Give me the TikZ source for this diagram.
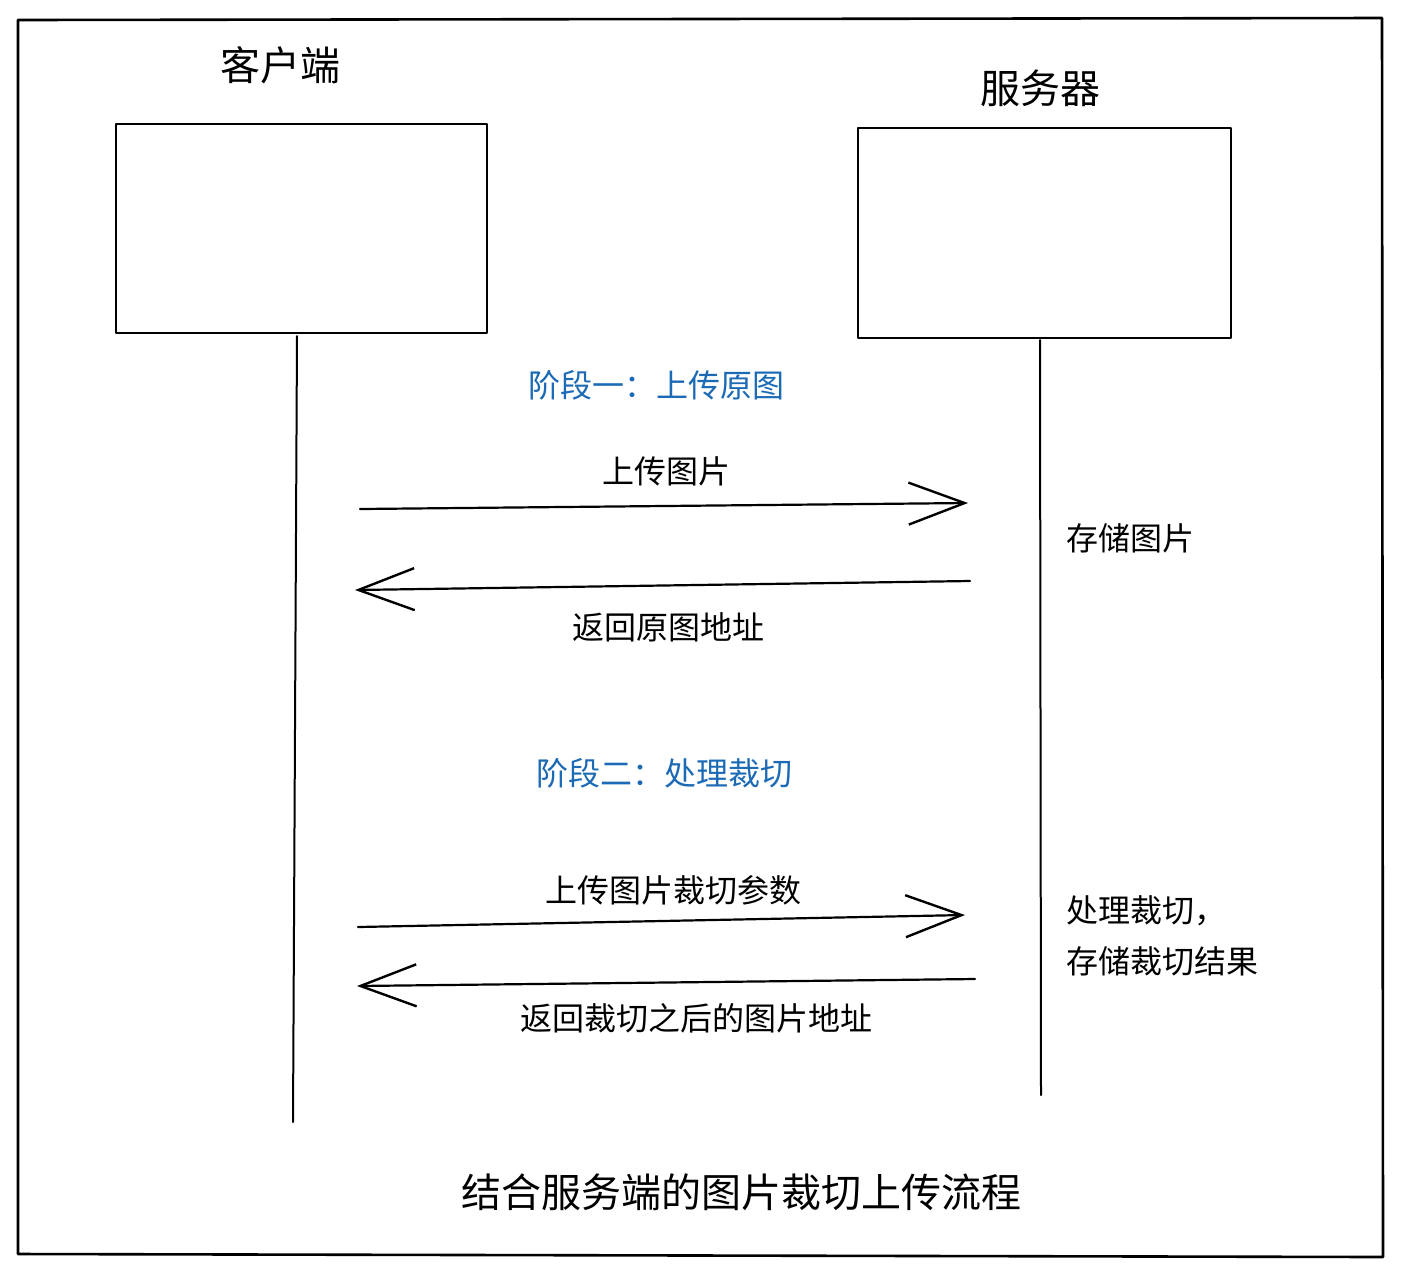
\documentclass[tikz,border=0pt]{standalone}
\usepackage{fontspec}
\setmainfont{Noto Sans CJK SC}
\usetikzlibrary{arrows.meta,positioning,calc}
\definecolor{phaseblue}{HTML}{1C6AB5}

\begin{document}
\begin{tikzpicture}[x=0.5pt,y=-0.5pt,line cap=round,line join=round,
 box/.style={draw,line width=1.3pt},
 life/.style={line width=1pt},
 msg/.style={line width=1.1pt,-{Straight Barb[length=28pt,width=21pt,line width=1.2pt]}},
 lbl/.style={font=\fontsize{16pt}{20pt}\selectfont,inner sep=0pt},
 phase/.style={lbl,text=phaseblue},
 head/.style={font=\fontsize{20pt}{24pt}\selectfont,inner sep=0pt}]
\useasboundingbox (0,0) rectangle (1403,1276);
\draw[line width=1.3pt] (18,20) -- (1382,18) -- (1383,1257) -- (18,1254) -- cycle;
% actors
\node[head] (cname) at (280,65) {客户端};
\node[head] (sname) at (1040,88) {服务器};
\draw[box] (116,124) rectangle (487,333);
\draw[box] (858,128) rectangle (1231,338);
\coordinate (ctop) at (297,336);\coordinate (cbot) at (293,1122);
\coordinate (stop) at (1040,340);\coordinate (sbot) at (1041,1095);
\draw[life] (ctop)--(cbot);
\draw[life] (stop)--(sbot);
% phase one
\node[phase] (p1) at (656,385) {阶段一：上传原图};
\coordinate (a1s) at (360,509);\coordinate (a1e) at (968,503);
\draw[msg] (a1s)--(a1e);
\node[lbl] (m1) at (666,471) {上传图片};
\node[lbl,anchor=west] (n1) at (1066,538) {存储图片};
\coordinate (a2s) at (970,581);\coordinate (a2e) at (355,590);
\draw[msg] (a2s)--(a2e);
\node[lbl] (m2) at (668,627) {返回原图地址};
% phase two
\node[phase] (p2) at (664,773) {阶段二：处理裁切};
\coordinate (a3s) at (358,927);\coordinate (a3e) at (965,915);
\draw[msg] (a3s)--(a3e);
\node[lbl] (m3) at (673,890) {上传图片裁切参数};
\node[lbl,anchor=west,align=left] (n2) at (1066,936) {处理裁切，\\[5.5pt]存储裁切结果};
\coordinate (a4s) at (975,979);\coordinate (a4e) at (357,986);
\draw[msg] (a4s)--(a4e);
\node[lbl] (m4) at (696,1018) {返回裁切之后的图片地址};
\node[head] (title) at (741,1192) {结合服务端的图片裁切上传流程};
\end{tikzpicture}
\end{document}
